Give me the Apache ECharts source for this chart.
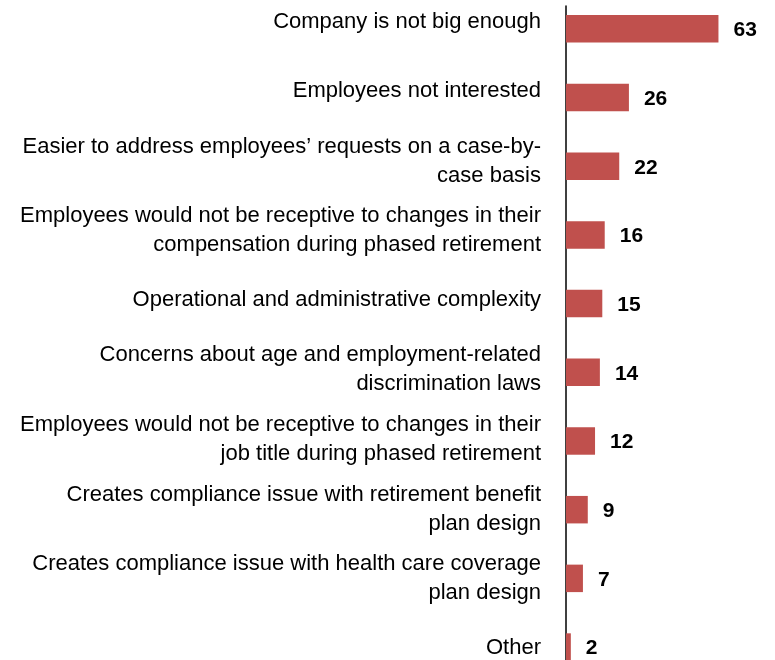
<!DOCTYPE html>
<html>
<head>
<meta charset="utf-8">
<script src="https://cdn.jsdelivr.net/npm/echarts@6/dist/echarts.min.js"></script>
<style>html,body{margin:0;padding:0;background:#fff;}#c{width:775px;height:660px;}</style>
</head>
<body>
<div id="c"></div>
<script>
const categories = [
  'Company is not big enough',
  'Employees not interested',
  'Easier to address employees’ requests on a case-by-\ncase basis',
  'Employees would not be receptive to changes in their\ncompensation during phased retirement',
  'Operational and administrative complexity',
  'Concerns about age and employment-related\ndiscrimination laws',
  'Employees would not be receptive to changes in their\njob title during phased retirement',
  'Creates compliance issue with retirement benefit\nplan design',
  'Creates compliance issue with health care coverage\nplan design',
  'Other'
];
const values = [63, 26, 22, 16, 15, 14, 12, 9, 7, 2];

const FONT = '"Liberation Sans", Arial, sans-serif';
const chart = echarts.init(document.getElementById('c'), null, {renderer: 'canvas'});
chart.setOption({
  animation: false,
  backgroundColor: '#fff',
  grid: [
    {left: 566, right: 3.3, top: -5.5, bottom: -21.4, outerBoundsMode: 'none', containLabel: false},
    {left: 566, right: 3.3, top: -13, bottom: -23, outerBoundsMode: 'none', containLabel: false},
    {left: 566, right: 3.3, top: 6, bottom: -30, outerBoundsMode: 'none', containLabel: false}
  ],
  xAxis: [
    {gridIndex: 0, type: 'value', min: 0, max: 85, show: false},
    {gridIndex: 1, type: 'value', min: 0, max: 1, show: false},
    {gridIndex: 2, type: 'value', min: 0, max: 1, show: false}
  ],
  yAxis: [
    {gridIndex: 0, type: 'category', inverse: true, data: categories,
     axisLine: {show: false}, axisTick: {show: false}, axisLabel: {show: false}, splitLine: {show: false}},
    {gridIndex: 1, type: 'category', inverse: true, data: categories,
     axisLine: {show: false}, axisTick: {show: false}, splitLine: {show: false},
     axisLabel: {interval: 0, margin: 25, fontFamily: FONT, fontSize: 22, lineHeight: 29, color: '#000', align: 'right'}},
    {gridIndex: 2, type: 'category', data: [''],
     axisLine: {show: true, lineStyle: {color: '#000', width: 1.5}}, axisTick: {show: false},
     axisLabel: {show: false}, splitLine: {show: false}}
  ],
  series: [{
    type: 'bar',
    xAxisIndex: 0,
    yAxisIndex: 0,
    data: values,
    barWidth: '40%',
    itemStyle: {color: '#C0504D'},
    label: {show: true, position: 'right', distance: 15, offset: [0, 1.5],
      fontFamily: FONT, fontWeight: 'bold', fontSize: 21, color: '#000'}
  }]
});
</script>
</body>
</html>
